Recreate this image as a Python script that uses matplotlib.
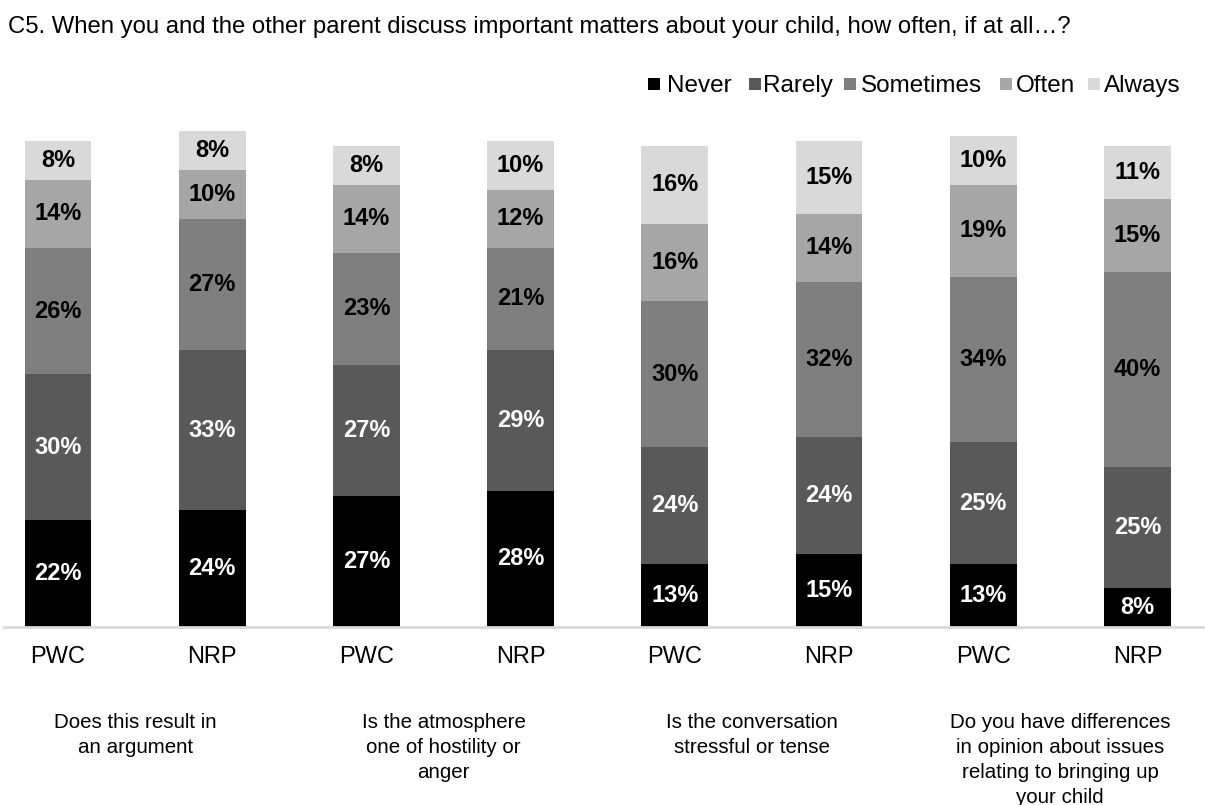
import matplotlib
matplotlib.use("Agg")
import matplotlib.pyplot as plt
from matplotlib.patches import Rectangle
import numpy as np

plt.rcParams['font.family'] = ['Liberation Sans', 'DejaVu Sans']

title = "C5. When you and the other parent discuss important matters about your child, how often, if at all\u2026?"
bar_labels = ["PWC", "NRP", "PWC", "NRP", "PWC", "NRP", "PWC", "NRP"]
questions = [
    "Does this result in\nan argument",
    "Is the atmosphere\none of hostility or\nanger",
    "Is the conversation\nstressful or tense",
    "Do you have differences\nin opinion about issues\nrelating to bringing up\nyour child",
]
series_names = ["Never", "Rarely", "Sometimes", "Often", "Always"]
never = [22, 24, 27, 28, 13, 15, 13, 8]
rarely = [30, 33, 27, 29, 24, 24, 25, 25]
sometimes = [26, 27, 23, 21, 30, 32, 34, 40]
often = [14, 10, 14, 12, 16, 14, 19, 15]
always = [8, 8, 8, 10, 16, 15, 10, 11]

colors = ["#000000", "#595959", "#7f7f7f", "#a6a6a6", "#d9d9d9"]
text_colors = ["white", "white", "black", "black", "black"]

W, H = 1205, 805
fig = plt.figure(figsize=(W / 100, H / 100), dpi=100)

base_px = 627
top_px = 100
ax = fig.add_axes([4 / W, (H - base_px) / H, 1 - 4 / W, (base_px - top_px) / H])

x = np.arange(len(bar_labels))
step_px = 154.2
first_px = 58
ax.set_xlim(-(first_px - 4) / step_px, (W - first_px) / step_px)
ax.set_ylim(0, (base_px - top_px) / 4.86)

bottom = np.zeros(len(x))
for vals, col, tcol in zip([never, rarely, sometimes, often, always], colors, text_colors):
    vals = np.array(vals, dtype=float)
    ax.bar(x, vals, bottom=bottom, width=0.434, color=col, linewidth=0)
    for xi, b, v in zip(x, bottom, vals):
        ax.text(xi, b + v / 2, f"{int(v)}%", ha="center", va="center",
                color=tcol, fontsize=17, fontweight="bold")
    bottom += vals

for s in ax.spines.values():
    s.set_visible(False)
ax.axhline(0, color="#d9d9d9", linewidth=2, clip_on=False)
ax.set_yticks([])
ax.set_xticks(x)
ax.set_xticklabels(bar_labels, fontsize=17)
ax.tick_params(axis="x", length=0, pad=14)

for i, q in enumerate(questions):
    cx = (first_px + step_px * (2 * i + 0.5)) / W
    fig.text(cx, 1 - 713 / H, q, ha="center", va="top", fontsize=14.8,
             linespacing=1.4)

fig.text(8 / W, 1 - 27 / H, title, ha="left", va="center", fontsize=17.2)

# legend row: square swatch followed by its label, all on one baseline
swatch_px = [648, 749, 844, 1000, 1088]
label_px = [667, 763, 861, 1016, 1104]
for name, col, sx, lx in zip(series_names, colors, swatch_px, label_px):
    fig.patches.append(Rectangle((sx / W, 1 - 90 / H), 12 / W, 12 / H,
                                 transform=fig.transFigure, facecolor=col,
                                 edgecolor="none"))
    fig.text(lx / W, 1 - 92 / H, name, ha="left", va="baseline", fontsize=17.5)

fig.savefig("out.png", dpi=100)
